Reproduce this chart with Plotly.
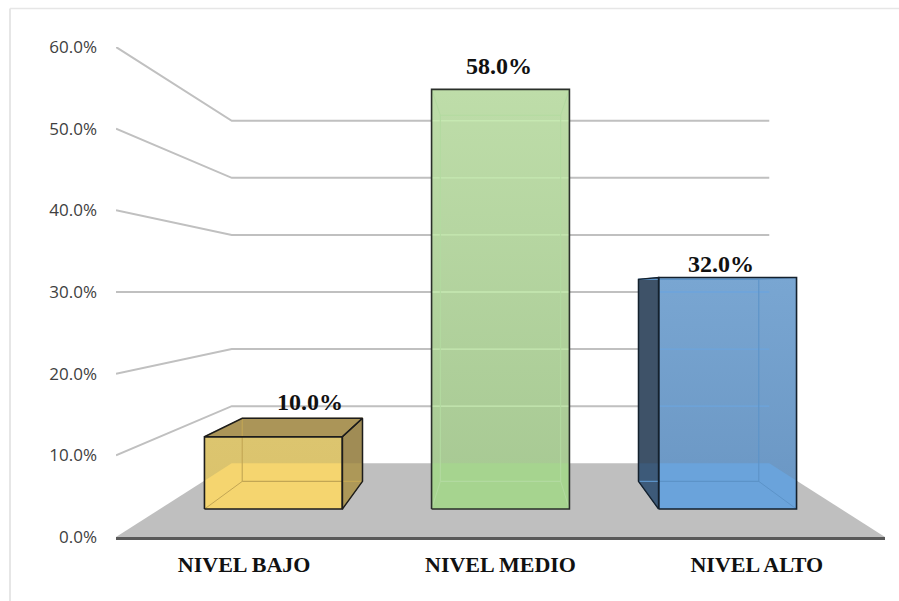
import plotly.graph_objects as go

categories = ["NIVEL BAJO", "NIVEL MEDIO", "NIVEL ALTO"]
values = [10.0, 58.0, 32.0]
tick_values = [0, 10, 20, 30, 40, 50, 60]
tick_labels = ["0.0%", "10.0%", "20.0%", "30.0%", "40.0%", "50.0%", "60.0%"]

# perspective set-up of the 3D chart
CX, CY = 1.5, 30.0       # vanishing point in axis units
S_WALL = 0.699           # depth scale of back wall
S_BAR_F = 0.886          # depth scale of bars' front faces
S_BAR_B = 0.773          # depth scale of bars' back faces
HALF = 0.3035            # half bar width in category units

styles = [
    dict(top="#DCC56F", bot="#DAC26C", floor="#F5D56F", side="#A08C55", side_floor="#AD9858", cap="#AB9558",
         inner="#C2A654", grid="#DCC56F", edge="#1C1C1C"),
    dict(top="#BEDDA9", bot="#A6C892", floor="#A6D48F", side="#B4D6A0", side_floor="#A6D48F", cap="#BEDDA9",
         inner="#B2DAA0", grid="#C6E8B2", edge="#2A2F2A"),
    dict(top="#79A6D2", bot="#6A96C3", floor="#6AA3DB", side="#3E5268", side_floor="#3D5A79", cap="#3E5268",
         inner="#5C93C8", grid="#6CA5DC", edge="#14202C"),
]


def proj(x, v, s):
    return CX + (x - CX) * s, CY + (v - CY) * s


def clip_rect(poly, x0, x1, y0, y1):
    """Sutherland-Hodgman clip of a polygon by an axis-aligned rectangle."""
    def clip(pts, inside, cross):
        out = []
        for i, p in enumerate(pts):
            q = pts[i - 1]
            if inside(p):
                if not inside(q):
                    out.append(cross(q, p))
                out.append(p)
            elif inside(q):
                out.append(cross(q, p))
        return out

    def at_x(c):
        return lambda a, b: (c, a[1] + (b[1] - a[1]) * (c - a[0]) / (b[0] - a[0]))

    def at_y(c):
        return lambda a, b: (a[0] + (b[0] - a[0]) * (c - a[1]) / (b[1] - a[1]), c)

    poly = clip(poly, lambda p: p[0] >= x0, at_x(x0))
    poly = clip(poly, lambda p: p[0] <= x1, at_x(x1))
    poly = clip(poly, lambda p: p[1] >= y0, at_y(y0))
    poly = clip(poly, lambda p: p[1] <= y1, at_y(y1))
    return poly


fig = go.Figure()


def add_poly(pts, fill=None, line=None, width=1.0, gradient=None, closed=True):
    if not pts:
        return
    xs = [p[0] for p in pts]
    ys = [p[1] for p in pts]
    if closed:
        xs.append(xs[0])
        ys.append(ys[0])
    kw = dict(x=xs, y=ys, mode="lines", hoverinfo="skip", showlegend=False, cliponaxis=False,
              line=dict(color=line or "rgba(0,0,0,0)", width=width if line else 0))
    if fill or gradient:
        kw["fill"] = "toself"
        if gradient:
            kw["fillgradient"] = dict(type="vertical", colorscale=gradient)
        else:
            kw["fillcolor"] = fill
    fig.add_trace(go.Scatter(**kw))


# floor
floor = [proj(0, 0, 1), proj(3, 0, 1), proj(3, 0, S_WALL), proj(0, 0, S_WALL)]
add_poly(floor, fill="#BFBFBF")
floor_back_y = floor[3][1]

# gridlines: from the front-left tick, along the side wall, across the back wall
for t in tick_values[1:]:
    add_poly([proj(0, t, 1), proj(0, t, S_WALL), proj(3, t, S_WALL)],
             line="#C0C0C0", width=2, closed=False)

# bars
for i, v in enumerate(values):
    st = styles[i]
    c = i + 0.5
    xl, xr = c - HALF, c + HALF
    fbl, fbr = proj(xl, 0, S_BAR_F), proj(xr, 0, S_BAR_F)
    ftl, ftr = proj(xl, v, S_BAR_F), proj(xr, v, S_BAR_F)
    bbl, bbr = proj(xl, 0, S_BAR_B), proj(xr, 0, S_BAR_B)
    btl, btr = proj(xl, v, S_BAR_B), proj(xr, v, S_BAR_B)

    # front face
    add_poly([fbl, fbr, ftr, ftl], gradient=[[0, st["bot"]], [1, st["top"]]])
    # floor seen through the front face
    add_poly(clip_rect(floor, fbl[0], fbr[0], fbl[1], ftl[1]), fill=st["floor"])

    # wall gridlines seen through the bar
    wall_l, wall_r = proj(0, 0, S_WALL)[0], proj(3, 0, S_WALL)[0]
    for t in tick_values[1:]:
        wy = proj(0, t, S_WALL)[1]
        if ftl[1] > wy:
            add_poly([(max(fbl[0], wall_l), wy), (min(fbr[0], wall_r), wy)],
                     line=st["grid"], width=1.4, closed=False)

    # visible outer faces (towards the viewer's side of the vanishing point)
    outlines = []
    if ftl[0] > CX:
        side = [fbl, bbl, btl, ftl]
        outlines.append(side)
    elif ftr[0] < CX:
        side = [fbr, bbr, btr, ftr]
        outlines.append(side)
    else:
        side = None
    if side:
        add_poly(side, fill=st["side"])
        add_poly(clip_rect(side, -1e9, 1e9, -1e9, floor_back_y), fill=st["side_floor"])
    if v < CY:
        cap = [ftl, ftr, btr, btl]
        add_poly(cap, fill=st["cap"])
        outlines.append(cap)

    # inner (back) edges of the box
    add_poly([bbl, btl, btr, bbr], line=st["inner"], width=1.1)
    for a, b in ((fbl, bbl), (fbr, bbr), (ftl, btl), (ftr, btr)):
        add_poly([a, b], line=st["inner"], width=1.0, closed=False)

    # outlines
    for o in outlines:
        add_poly(o, line=st["edge"], width=1.5)
    add_poly([fbl, fbr, ftr, ftl], line=st["edge"], width=1.6)

# data labels anchored on the top-front of every bar
label_shift = [(37, 35), (-2, 23), (-7, 14)]
for i, v in enumerate(values):
    px, py = proj(i + 0.5, v, S_BAR_F)
    fig.add_annotation(x=px, y=py, text=f"<b>{v:.1f}%</b>", showarrow=False,
                       xshift=label_shift[i][0], yshift=label_shift[i][1],
                       font=dict(family="Liberation Serif", size=24, color="#111111"),
                       xanchor="center", yanchor="middle")

fig.update_layout(
    width=899, height=601, autosize=False,
    margin=dict(l=116, r=14, t=46.5, b=64),
    paper_bgcolor="white", plot_bgcolor="white",
    showlegend=False,
    xaxis=dict(range=[0, 3], tickmode="array", tickvals=[0.5, 1.5, 2.5],
               ticktext=[f"<b>{c}</b>" for c in categories],
               tickfont=dict(family="Liberation Serif", size=22, color="#111111"),
               showgrid=False, zeroline=False, showline=True, linecolor="#595959", linewidth=2.5,
               ticks="", ticklabelstandoff=6, fixedrange=True),
    yaxis=dict(range=[0, 60], tickmode="array", tickvals=tick_values, ticktext=tick_labels,
               tickfont=dict(family="Open Sans", size=17, color="#404040"),
               showgrid=False, zeroline=False, showline=False,
               ticks="", ticklabelstandoff=18, fixedrange=True),
    shapes=[
        dict(type="line", xref="paper", yref="paper", x0=-106 / 769, x1=-106 / 769, y0=-64 / 490.5, y1=1 + 38.5 / 490.5,
             line=dict(color="#DEDEDE", width=1.5)),
        dict(type="line", xref="paper", yref="paper", x0=-106 / 769, x1=1 + 14 / 769, y0=1 + 38.5 / 490.5, y1=1 + 38.5 / 490.5,
             line=dict(color="#E6E6E6", width=1.5)),
    ],
)

fig.write_html("out.html", config={"displayModeBar": False},
               post_script="document.body.style.margin='0';")
